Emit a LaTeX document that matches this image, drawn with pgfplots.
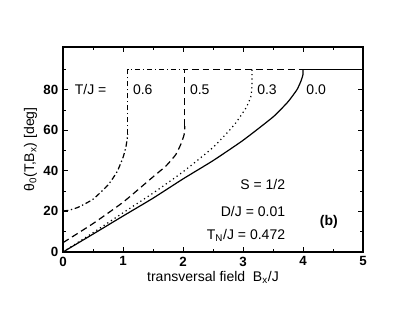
\documentclass[border=0pt]{standalone}
\usepackage{pgfplots}
\pgfplotsset{compat=1.18}
\usepackage{fontspec}
\setmainfont{Liberation Sans}
\begin{document}
\begin{tikzpicture}[x=0.75pt,y=0.75pt]
\path (-63,-64) rectangle (346,252);
\begin{axis}[
  at={(0,0)}, anchor=south west,
  scale only axis, width=225pt, height=153.75pt,
  xmin=0, xmax=5, ymin=0, ymax=101,
  xtick={0,1,2,3,4,5}, ytick={0,20,40,60,80},
  minor xtick={0.5,1.5,2.5,3.5,4.5}, minor ytick={10,30,50,70,90},
  tick align=inside, tick pos=both,
  major tick length=3.5pt, minor tick length=2pt,
  tick style={black, line width=0.6pt},
  axis line style={line width=0.8pt},
  /pgf/number format/assume math mode=true,
  ticklabel style={font=\fontsize{10}{12}\selectfont\bfseries},
  label style={font=\fontsize{10.5}{12}\selectfont},
  xlabel={transversal field\ \ B\textsubscript{x}/J},
  ylabel={θ\textsubscript{0}(T,B\textsubscript{x}) [deg]},
  xlabel style={yshift=3pt},
  ylabel style={yshift=-2pt},
  clip=false,
]
% T=0.0 solid
\addplot[black, line width=0.9pt, smooth, tension=0.3] coordinates {
(0,0) (0.5,8.8) (1,17.7) (1.5,26.5) (2,36) (2.5,45) (3,55) (3.5,66.5) (3.75,74) (3.9,80) (3.97,84.5) (4,87.5) (4,90)};
\addplot[black, line width=0.9pt] coordinates {(4,90) (5,90)};
% T=0.3 dotted
\addplot[black, line width=0.9pt, dash pattern=on 0.9pt off 2.4pt, smooth, tension=0.3] coordinates {
(0,0) (0.5,9.5) (1,19.3) (1.5,29) (2,39.5) (2.5,51.5) (2.85,62.5) (3.05,71) (3.13,76.5) (3.15,82) (3.15,90)};
% T=0.5 dashed
\addplot[black, line width=0.9pt, dash pattern=on 5pt off 3pt, smooth, tension=0.3] coordinates {
(0,4.6) (0.5,14) (1,24.5) (1.5,37) (1.72,42.5) (1.88,48) (1.97,53.5) (2.02,58) (2.03,62)};
\addplot[black, line width=0.9pt, dash pattern=on 5pt off 3pt] coordinates {(2.03,62) (2.03,90) (4,90)};
% T=0.6 dash-dot
\addplot[black, line width=0.9pt, dash pattern=on 4pt off 2pt on 1pt off 2pt, smooth, tension=0.3] coordinates {
(0,20.2) (0.1,20.6) (0.25,22) (0.5,26) (0.75,33) (0.9,39.5) (1,46.5) (1.05,52) (1.08,58)};
\addplot[black, line width=0.9pt, dash pattern=on 4pt off 2pt on 1pt off 2pt] coordinates {(1.08,58) (1.08,90) (2.03,90)};
\node[font=\fontsize{10.5}{12}\selectfont] at (axis cs:0.46,80) {T/J =};
\node[font=\fontsize{10.5}{12}\selectfont] at (axis cs:1.33,80) {0.6};
\node[font=\fontsize{10.5}{12}\selectfont] at (axis cs:2.28,80) {0.5};
\node[font=\fontsize{10.5}{12}\selectfont] at (axis cs:3.4,80) {0.3};
\node[font=\fontsize{10.5}{12}\selectfont] at (axis cs:4.22,80) {0.0};
\node[font=\fontsize{10.5}{12}\selectfont, anchor=east] at (axis cs:3.78,33.5) {S = 1/2};
\node[font=\fontsize{10.5}{12}\selectfont, anchor=east] at (axis cs:3.78,20) {D/J = 0.01};
\node[font=\fontsize{10.5}{12}\selectfont, anchor=east] at (axis cs:3.78,8) {T\textsubscript{N}/J = 0.472};
\node[font=\fontsize{10.5}{12}\selectfont\bfseries] at (axis cs:4.43,15) {(b)};
\end{axis}
\end{tikzpicture}
\end{document}
